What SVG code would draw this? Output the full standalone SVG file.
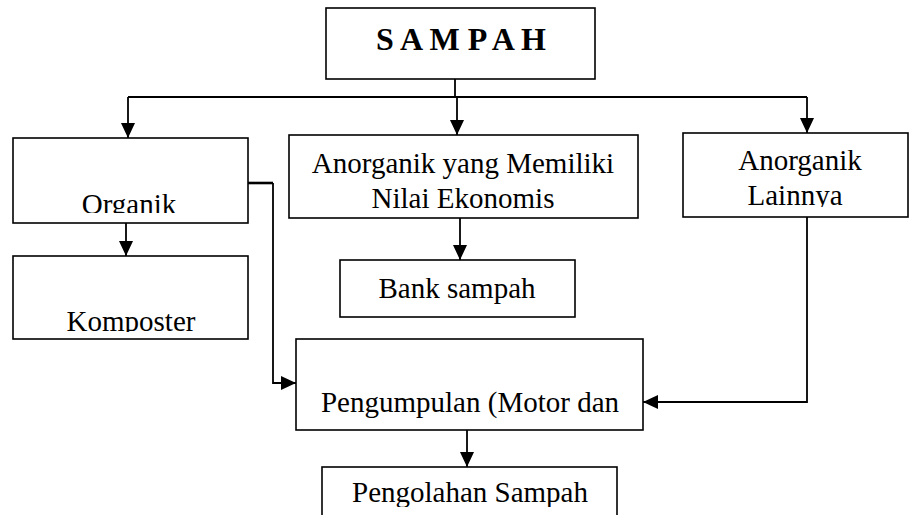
<svg xmlns="http://www.w3.org/2000/svg" width="910" height="515" viewBox="0 0 910 515">
<style>
.box{fill:#fff;stroke:#000;stroke-width:1.6}
.t{font-family:"Liberation Serif","Times New Roman",serif;font-size:29px;fill:#000;text-anchor:middle}
.b{font-weight:bold;font-size:32px}
.ln{fill:none;stroke:#000;stroke-width:1.8}
</style>
<defs>
<marker id="ah" markerUnits="userSpaceOnUse" markerWidth="15" markerHeight="14" refX="15" refY="7" orient="auto" viewBox="0 0 15 14">
<path d="M0,0 L15,7 L0,14 Z" fill="#000"/>
</marker>
<clipPath id="cOrg"><rect x="13" y="138" width="235" height="75"/></clipPath>
<clipPath id="cKom"><rect x="13" y="256" width="235" height="76"/></clipPath>
<clipPath id="cLain"><rect x="683" y="133" width="225" height="74"/></clipPath>
<clipPath id="cPeng"><rect x="296" y="339" width="347" height="80"/></clipPath>
<clipPath id="cOlah"><rect x="322" y="467" width="295" height="40"/></clipPath>
</defs>
<g id="connectors">
<path class="ln" d="M455,79 V97"/>
<path class="ln" d="M128,97 H807"/>
<path class="ln" d="M128,97 V138" marker-end="url(#ah)"/>
<path class="ln" d="M457,97 V135" marker-end="url(#ah)"/>
<path class="ln" d="M807,97 V133" marker-end="url(#ah)"/>
<path class="ln" d="M126,223 V256" marker-end="url(#ah)"/>
<path class="ln" d="M460,218 V260" marker-end="url(#ah)"/>
<path class="ln" d="M245,183 H273" style="stroke-width:2.6"/>
<path class="ln" d="M273,183 V383 H296" marker-end="url(#ah)"/>
<path class="ln" d="M807,217 V402 H643" marker-end="url(#ah)"/>
<path class="ln" d="M467,430 V467" marker-end="url(#ah)"/>
</g>
<g id="sampah">
<rect class="box" x="326" y="8" width="269" height="71"/>
<text class="t b" x="461" y="50">S A M P A H</text>
</g>
<g id="organik">
<rect class="box" x="13" y="138" width="235" height="85"/>
<text class="t" x="129" y="214" clip-path="url(#cOrg)">Organik</text>
</g>
<g id="komposter">
<rect class="box" x="13" y="256" width="235" height="83"/>
<text class="t" x="131" y="331" clip-path="url(#cKom)">Komposter</text>
</g>
<g id="anorganik-ekonomis">
<rect class="box" x="289" y="135" width="349" height="83"/>
<text class="t" x="463" y="173">Anorganik yang Memiliki</text>
<text class="t" x="463" y="208">Nilai Ekonomis</text>
</g>
<g id="bank-sampah">
<rect class="box" x="340" y="260" width="235" height="57"/>
<text class="t" x="457" y="298">Bank sampah</text>
</g>
<g id="anorganik-lainnya">
<rect class="box" x="683" y="133" width="225" height="84"/>
<text class="t" x="800" y="170">Anorganik</text>
<text class="t" x="795" y="205" clip-path="url(#cLain)">Lainnya</text>
</g>
<g id="pengumpulan">
<rect class="box" x="296" y="339" width="347" height="91"/>
<text class="t" x="470" y="412" clip-path="url(#cPeng)">Pengumpulan (Motor dan</text>
</g>
<g id="pengolahan">
<rect class="box" x="322" y="467" width="295" height="60"/>
<text class="t" x="470" y="502" clip-path="url(#cOlah)">Pengolahan Sampah</text>
</g>
</svg>
